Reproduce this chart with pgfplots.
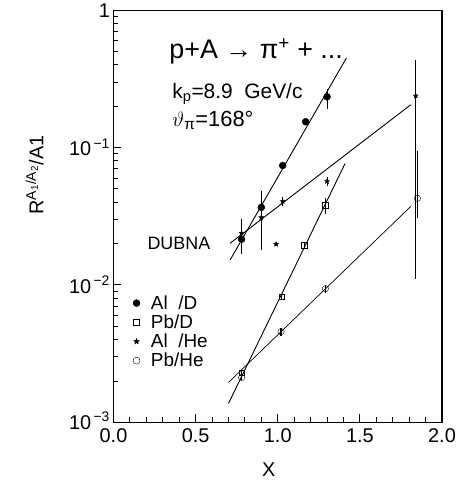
\documentclass[border=0pt]{standalone}
\usepackage{fontspec}
\setmainfont{Liberation Sans}
\usepackage{pgfplots}
\pgfplotsset{compat=1.18}
\pgfdeclareplotmark{fstar}{%
  \pgfpathmoveto{\pgfpointpolar{90}{\pgfplotmarksize}}%
  \pgfpathlineto{\pgfpointpolar{126}{0.42\pgfplotmarksize}}%
  \pgfpathlineto{\pgfpointpolar{162}{\pgfplotmarksize}}%
  \pgfpathlineto{\pgfpointpolar{198}{0.42\pgfplotmarksize}}%
  \pgfpathlineto{\pgfpointpolar{234}{\pgfplotmarksize}}%
  \pgfpathlineto{\pgfpointpolar{270}{0.42\pgfplotmarksize}}%
  \pgfpathlineto{\pgfpointpolar{306}{\pgfplotmarksize}}%
  \pgfpathlineto{\pgfpointpolar{342}{0.42\pgfplotmarksize}}%
  \pgfpathlineto{\pgfpointpolar{18}{\pgfplotmarksize}}%
  \pgfpathlineto{\pgfpointpolar{54}{0.42\pgfplotmarksize}}%
  \pgfpathclose
  \pgfusepathqfillstroke}
\begin{document}
\begin{tikzpicture}[x=1pt,y=1pt]
\path (0,0) rectangle (457,490);
\begin{axis}[
  at={(114pt,68pt)}, anchor=south west,
  scale only axis, width=330pt, height=414pt,
  xmin=0, xmax=2, ymin=1e-3, ymax=1, ymode=log,
  xtick={0,0.5,1,1.5,2}, xticklabels={0.0,0.5,1.0,1.5,2.0},
  minor x tick num=4,
  ytick={0.001,0.01,0.1,1},
  yticklabels={\raisebox{3pt}{10\textsuperscript{\,−3}},10\textsuperscript{\,−2},10\textsuperscript{\,−1},1},
  tick pos=left,
  major tick length=8pt, minor tick length=5pt,
  axis line style={line width=1.3pt},
  tick style={line width=0.9pt, black},
  ticklabel style={font=\fontsize{20}{20}\selectfont},
  xticklabel style={yshift=-3pt},
  /pgf/number format/assume math mode=true,
  ylabel={R\textsuperscript{A\textsubscript{1}/A\textsubscript{2}}/A1},
  ylabel style={at={(rel axis cs:-0.24,0.6)}, anchor=center, font=\fontsize{20}{20}\selectfont},
  xlabel={X},
  xlabel style={at={(rel axis cs:0.473,-0.116)}, anchor=center, font=\fontsize{20}{20}\selectfont},
  clip=false,
  legend style={at={(rel axis cs:0.059,0.313)}, anchor=north west, draw=none, fill=none,
    font=\fontsize{19}{19}\selectfont, row sep=0pt, inner sep=0pt},
  legend cell align=left,
  error bars/error mark=none,
]
\addlegendimage{only marks, mark=*, mark size=3.5pt, black}
\addlegendentry{\hspace{9pt}Al~~/D}
\addlegendimage{only marks, mark=square, mark size=3pt, black}
\addlegendentry{\hspace{9pt}Pb/D}
\addlegendimage{only marks, mark=fstar, mark size=3pt, black}
\addlegendentry{\hspace{9pt}Al~~/He}
\addlegendimage{only marks, mark=o, mark size=3.5pt, black}
\addlegendentry{\hspace{9pt}Pb/He}

% fit lines
\addplot[black, line width=0.9pt, forget plot] coordinates {(0.71,0.0152) (1.418,0.449)};
\addplot[black, line width=0.9pt, forget plot] coordinates {(0.71,0.0201) (1.81,0.205)};
\addplot[black, line width=0.9pt, forget plot] coordinates {(0.70,0.00137) (1.41,0.0766)};
\addplot[black, line width=0.7pt, forget plot] coordinates {(0.70,0.00195) (1.81,0.0373)};

% Al/D
\addplot[black, only marks, mark=*, mark size=3.5pt, forget plot,
  error bars/.cd, y dir=both, y explicit, error bar style={line width=0.9pt}]
  coordinates {
  (0.78,0.0215) += (0,0.0085) -= (0,0.0047)
  (0.90,0.0367) += (0,0.009) -= (0,0.006)
  (1.03,0.074) += (0,0.003) -= (0,0.003)
  (1.17,0.154) += (0,0.008) -= (0,0.008)
  (1.30,0.234) += (0,0.034) -= (0,0.044)
  };
% Al/He
\addplot[black, only marks, mark=fstar, mark size=2.6pt, forget plot,
  error bars/.cd, y dir=both, y explicit, error bar style={line width=0.9pt}]
  coordinates {
  (0.78,0.0238) += (0,0.002) -= (0,0.002)
  (0.90,0.031) += (0,0.017) -= (0,0.013)
  (1.03,0.0406) += (0,0.003) -= (0,0.003)
  (1.30,0.0567) += (0,0.004) -= (0,0.004)
  (1.84,0.238) += (0,0.196) -= (0,0.227)
  (0.99,0.0198) += (0,0) -= (0,0)
  };
% Pb/D
\addplot[black, only marks, mark=square, mark size=2.8pt, forget plot,
  error bars/.cd, y dir=both, y explicit, error bar style={line width=0.9pt}]
  coordinates {
  (0.78,0.0023) += (0,0.0001) -= (0,0.0001)
  (1.025,0.0082) += (0,0.0004) -= (0,0.0004)
  (1.16,0.0195) += (0,0.001) -= (0,0.001)
  (1.29,0.038) += (0,0.005) -= (0,0.005)
  };
% Pb/He
\addplot[black, only marks, mark=o, mark size=3.2pt, forget plot,
  error bars/.cd, y dir=both, y explicit, error bar style={line width=1.2pt}]
  coordinates {
  (0.78,0.00212) += (0,0.0001) -= (0,0.0001)
  (1.02,0.00457) += (0,0.0003) -= (0,0.0003)
  (1.29,0.0094) += (0,0.0006) -= (0,0.0006)
  (1.85,0.0427) += (0,0.052) -= (0,0.012)
  };
\end{axis}
\node[anchor=base west, inner sep=0, font=\fontsize{27}{27}\selectfont] at (170,433) {p+A → π\textsuperscript{+} + ...};
\node[anchor=base west, inner sep=0, font=\fontsize{21}{21}\selectfont] at (173,393) {k\textsubscript{p}=8.9~~GeV/c};
\node[anchor=base west, inner sep=0, font=\fontsize{22}{22}\selectfont] at (173,365) {$\vartheta$\textsubscript{π}=168°};
\node[anchor=base west, inner sep=0, font=\fontsize{18}{18}\selectfont] at (148,242) {DUBNA};
\end{tikzpicture}
\end{document}
